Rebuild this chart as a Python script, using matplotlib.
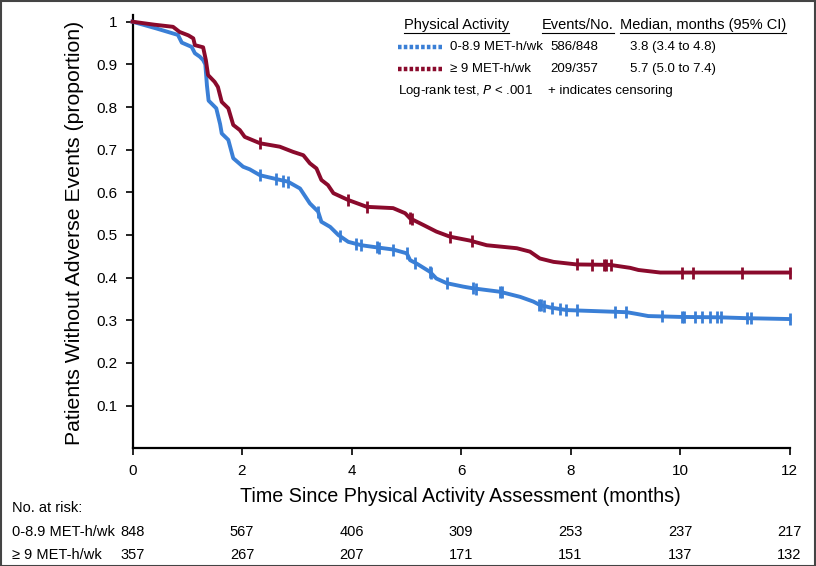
import numpy as np
import matplotlib
matplotlib.use("Agg")
import matplotlib.pyplot as plt
from matplotlib.transforms import blended_transform_factory
from matplotlib.lines import Line2D
from matplotlib.patches import Rectangle

# ---------------- data ----------------
low_t = [0, 0.44, 0.83, 0.9, 1.08, 1.14, 1.23, 1.29, 1.33, 1.36, 1.39, 1.53, 1.6, 1.63, 1.75, 1.84,
         2.02, 2.14, 2.33, 2.63, 2.84, 3.06, 3.24, 3.39, 3.45, 3.61, 3.76, 3.94, 4.18, 4.46, 4.76,
         5.01, 5.07, 5.19, 5.43, 5.55, 5.74, 6.04, 6.22, 6.71, 7.08, 7.32, 7.44, 7.63, 7.93, 8.14,
         8.81, 9.03, 9.21, 9.42, 10.0, 10.73, 11.22, 12.0]
low_s = [1.0, 0.984, 0.969, 0.951, 0.941, 0.926, 0.918, 0.91, 0.90, 0.85, 0.815, 0.797, 0.76, 0.738,
         0.723, 0.68, 0.66, 0.654, 0.64, 0.631, 0.625, 0.609, 0.574, 0.555, 0.531, 0.519, 0.50, 0.484,
         0.476, 0.471, 0.466, 0.457, 0.441, 0.433, 0.414, 0.398, 0.387, 0.379, 0.375, 0.367, 0.355,
         0.344, 0.336, 0.330, 0.324, 0.323, 0.320, 0.319, 0.315, 0.310, 0.308, 0.307, 0.305, 0.303]
low_cens = [2.33, 2.63, 2.75, 2.84, 3.39, 3.79, 4.09, 4.18, 4.46, 4.51, 4.76, 5.01, 5.16, 5.43, 5.46,
            5.74, 6.22, 6.27, 6.71, 6.74, 7.43, 7.47, 7.52, 7.66, 7.81, 7.92, 8.11, 8.81, 9.01, 9.67,
            10.03, 10.08, 10.28, 10.40, 10.54, 10.68, 10.75, 11.22, 11.29, 12.0]

high_t = [0, 0.4, 0.74, 0.86, 1.02, 1.11, 1.14, 1.29, 1.34, 1.38, 1.50, 1.56, 1.63, 1.75, 1.84, 1.96,
          2.05, 2.33, 2.69, 2.93, 3.12, 3.24, 3.36, 3.45, 3.57, 3.67, 3.94, 4.28, 4.76, 4.98, 5.07,
          5.32, 5.55, 5.80, 6.16, 6.47, 7.02, 7.26, 7.44, 7.69, 8.11, 8.72, 9.09, 9.24, 9.64, 12.0]
high_s = [1.0, 0.993, 0.988, 0.976, 0.968, 0.961, 0.945, 0.94, 0.91, 0.875, 0.859, 0.847, 0.812, 0.797,
          0.758, 0.746, 0.73, 0.715, 0.707, 0.695, 0.687, 0.668, 0.656, 0.629, 0.617, 0.598, 0.582,
          0.566, 0.563, 0.551, 0.539, 0.523, 0.508, 0.496, 0.487, 0.476, 0.469, 0.461, 0.445, 0.437,
          0.431, 0.43, 0.423, 0.418, 0.412, 0.412]
high_cens = [2.33, 3.94, 4.28, 5.07, 5.10, 5.80, 6.20, 8.11, 8.39, 8.61, 8.64, 8.74, 10.03, 10.23,
             11.13, 12.0]

group_labels = ["0-8.9 MET-h/wk", "\u2265 9 MET-h/wk"]
events = ["586/848", "209/357"]
medians = ["3.8 (3.4 to 4.8)", "5.7 (5.0 to 7.4)"]
risk_times = [0, 2, 4, 6, 8, 10, 12]
risk_low = [848, 567, 406, 309, 253, 237, 217]
risk_high = [357, 267, 207, 171, 151, 137, 132]
xticks = [0, 2, 4, 6, 8, 10, 12]
yticks = [0.1, 0.2, 0.3, 0.4, 0.5, 0.6, 0.7, 0.8, 0.9, 1.0]
ytick_labels = ["0.1", "0.2", "0.3", "0.4", "0.5", "0.6", "0.7", "0.8", "0.9", "1"]

BLUE = "#3a7fd6"
RED = "#8a0a2c"
W, H = 816, 566
REG = ["Liberation Sans", "DejaVu Sans"]
NARROW = ["Liberation Sans Narrow", "Liberation Sans", "DejaVu Sans"]

def fx(px):
    return px / W

def fy(py):
    return 1 - py / H

fig = plt.figure(figsize=(W / 100, H / 100), dpi=100)
ax_left, ax_right = 132.5, 789.5
y0px, y1px = 448.3, 21.7
top_val = 1.015
top_px = y0px - top_val * (y0px - y1px)
ax = fig.add_axes([fx(ax_left), fy(y0px), (ax_right - ax_left) / W, (y0px - top_px) / H])
ax.set_xlim(0, 12)
ax.set_ylim(0, top_val)

for t, s, c, cz in [(low_t, low_s, BLUE, low_cens), (high_t, high_s, RED, high_cens)]:
    ax.plot(t, s, color=c, lw=2.8, solid_joinstyle="round", clip_on=False, zorder=3)
    cy = np.interp(cz, t, s)
    ax.plot(cz, cy, ls="none", marker="|", ms=8, mew=2.0, color=c, clip_on=False, zorder=4)

for sp in ["top", "right"]:
    ax.spines[sp].set_visible(False)
for sp in ["left", "bottom"]:
    ax.spines[sp].set_linewidth(1.6)
ax.set_xticks(xticks)
ax.set_xticklabels([str(v) for v in xticks], fontsize=11, family=REG)
ax.set_yticks(yticks)
ax.set_yticklabels(ytick_labels, fontsize=11, family=REG)
ax.tick_params(direction="out", length=5, width=1.2, pad=6)

fig.text(fx(75), fy(233), "Patients Without Adverse Events (proportion)", rotation=90,
         ha="center", va="center", fontsize=15.3, family=NARROW)
fig.text(fx(460), fy(497), "Time Since Physical Activity Assessment (months)",
         ha="center", va="center", fontsize=14.2, family=NARROW)

# legend block
FSH = 10.5
FS = 9.5
hdr_y = 25
rows_y = [47, 69]
tx = []
tx.append(fig.text(fx(404), fy(hdr_y), "Physical Activity", ha="left", va="center", fontsize=FSH, family=REG))
tx.append(fig.text(fx(542), fy(hdr_y), "Events/No.", ha="left", va="center", fontsize=FSH, family=REG))
tx.append(fig.text(fx(620), fy(hdr_y), "Median, months (95% CI)", ha="left", va="center", fontsize=FSH, family=REG))
for i, (lab, ev, med, col) in enumerate(zip(group_labels, events, medians, [BLUE, RED])):
    yy = rows_y[i]
    fig.add_artist(Line2D([fx(398), fx(442)], [fy(yy), fy(yy)], color=col, lw=3.2,
                          ls=(0, (0.8, 0.5))))
    fig.text(fx(450), fy(yy), lab, ha="left", va="center", fontsize=FS, family=REG)
    fig.text(fx(550), fy(yy), ev, ha="left", va="center", fontsize=FS, family=REG)
    fig.text(fx(630), fy(yy), med, ha="left", va="center", fontsize=FS, family=REG)
fig.text(fx(398), fy(91), "Log-rank test, $\\it{P}$ < .001", ha="left", va="center", fontsize=FS, family=REG)
fig.text(fx(548), fy(91), "+ indicates censoring", ha="left", va="center", fontsize=FS, family=REG)

fig.canvas.draw()
r = fig.canvas.get_renderer()
for t in tx:
    bb = t.get_window_extent(r)
    yb = bb.y0 - 0.5
    fig.add_artist(Line2D([bb.x0 / W, bb.x1 / W], [yb / H, yb / H], color="black", lw=0.8))

# at-risk table
fig.text(fx(12), fy(508), "No. at risk:", ha="left", va="center", fontsize=10.5, family=NARROW)
trans = blended_transform_factory(ax.transData, fig.transFigure)
for lab, vals, yy in [(group_labels[0], risk_low, 532), (group_labels[1], risk_high, 555)]:
    fig.text(fx(12), fy(yy), lab, ha="left", va="center", fontsize=10.5, family=NARROW)
    for tt, v in zip(risk_times, vals):
        ax.text(tt, fy(yy), str(v), transform=trans, ha="center", va="center",
                fontsize=10.5, family=NARROW, clip_on=False)

fig.add_artist(Rectangle((0.5 / W, 0.5 / H), 1 - 1.5 / W, 1 - 1.5 / H, transform=fig.transFigure,
                         fill=False, edgecolor="#444444", lw=1.5))

fig.savefig("out.png", dpi=100)
